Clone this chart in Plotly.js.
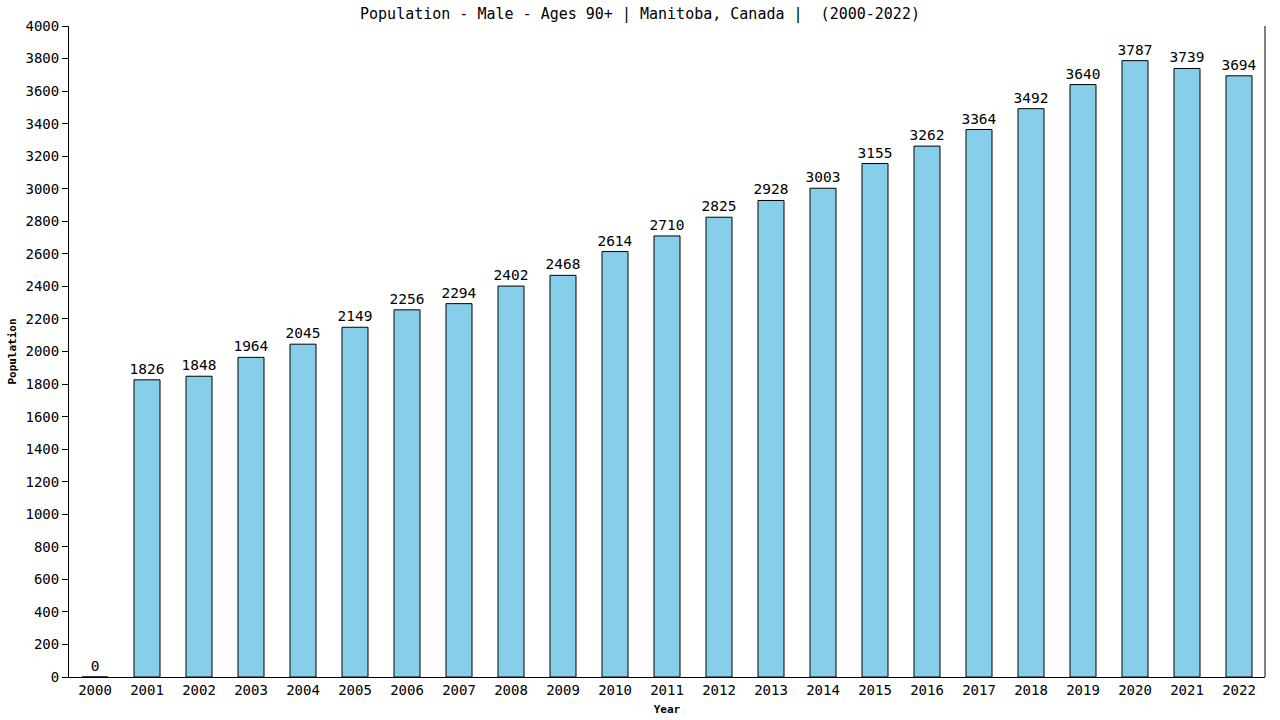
<!DOCTYPE html>
<html>
<head>
<meta charset="utf-8">
<script src="https://cdn.plot.ly/plotly-3.0.1.min.js"></script>
<style>
  html, body { margin: 0; padding: 0; background: #fff; }
  #chart { width: 1280px; height: 720px; }
</style>
</head>
<body>
<div id="chart"></div>
<script>
// data
const years = ["2000", "2001", "2002", "2003", "2004", "2005", "2006", "2007", "2008", "2009", "2010", "2011",
               "2012", "2013", "2014", "2015", "2016", "2017", "2018", "2019", "2020", "2021", "2022"];
const population = [0, 1826, 1848, 1964, 2045, 2149, 2256, 2294, 2402, 2468, 2614, 2710,
                    2825, 2928, 3003, 3155, 3262, 3364, 3492, 3640, 3787, 3739, 3694];
const yTicks = [0, 200, 400, 600, 800, 1000, 1200, 1400, 1600, 1800, 2000, 2200, 2400, 2600, 2800,
                3000, 3200, 3400, 3600, 3800, 4000];

const mono = "DejaVu Sans Mono, monospace";

const popData = [
    {
        type: "bar",
        x: years,
        y: population,
        width: 0.5,
        text: population.map(String),
        textposition: "outside",
        constraintext: "none",
        cliponaxis: false,
        textfont: { family: mono, size: 14.5, color: "#000" },
        marker: { color: "#87ceeb", line: { color: "#000", width: 1 } },
        hoverinfo: "none",
    },
];

const popLayout = {
    width: 1280,
    height: 720,
    paper_bgcolor: "#fff",
    plot_bgcolor: "#fff",
    font: { family: mono, size: 14, color: "#000" },
    margin: { t: 26, b: 43, l: 69, r: 15 },
    title: {
        text: "Population - Male - Ages 90+ | Manitoba, Canada |  (2000-2022)",
        font: { family: mono, size: 15, color: "#000" },
        x: 0.5, xanchor: "center",
        y: 0.988, yanchor: "top",
    },
    xaxis: {
        type: "category",
        showline: true, linecolor: "#000", linewidth: 1,
        ticks: "", showgrid: false, zeroline: false,
        tickfont: { family: mono, size: 14 },
        title: { text: "<b>Year</b>", standoff: 8, font: { family: mono, size: 11 } },
        range: [-0.5, 22.5],
    },
    yaxis: {
        range: [0, 4000],
        tickvals: yTicks,
        showline: true, linecolor: "#000", linewidth: 1,
        mirror: false,
        ticks: "outside", ticklen: 6, tickcolor: "#000",
        showgrid: false, zeroline: false,
        tickfont: { family: mono, size: 14 },
        title: { text: "<b>Population</b>", standoff: 6, font: { family: mono, size: 11 } },
    },
    shapes: [
        // right frame line
        { type: "line", xref: "paper", yref: "paper", x0: 1, x1: 1, y0: 0, y1: 1, line: { color: "#000", width: 1 } },
    ],
    showlegend: false,
};

Plotly.newPlot("chart", popData, popLayout, { staticPlot: true });
</script>
</body>
</html>
